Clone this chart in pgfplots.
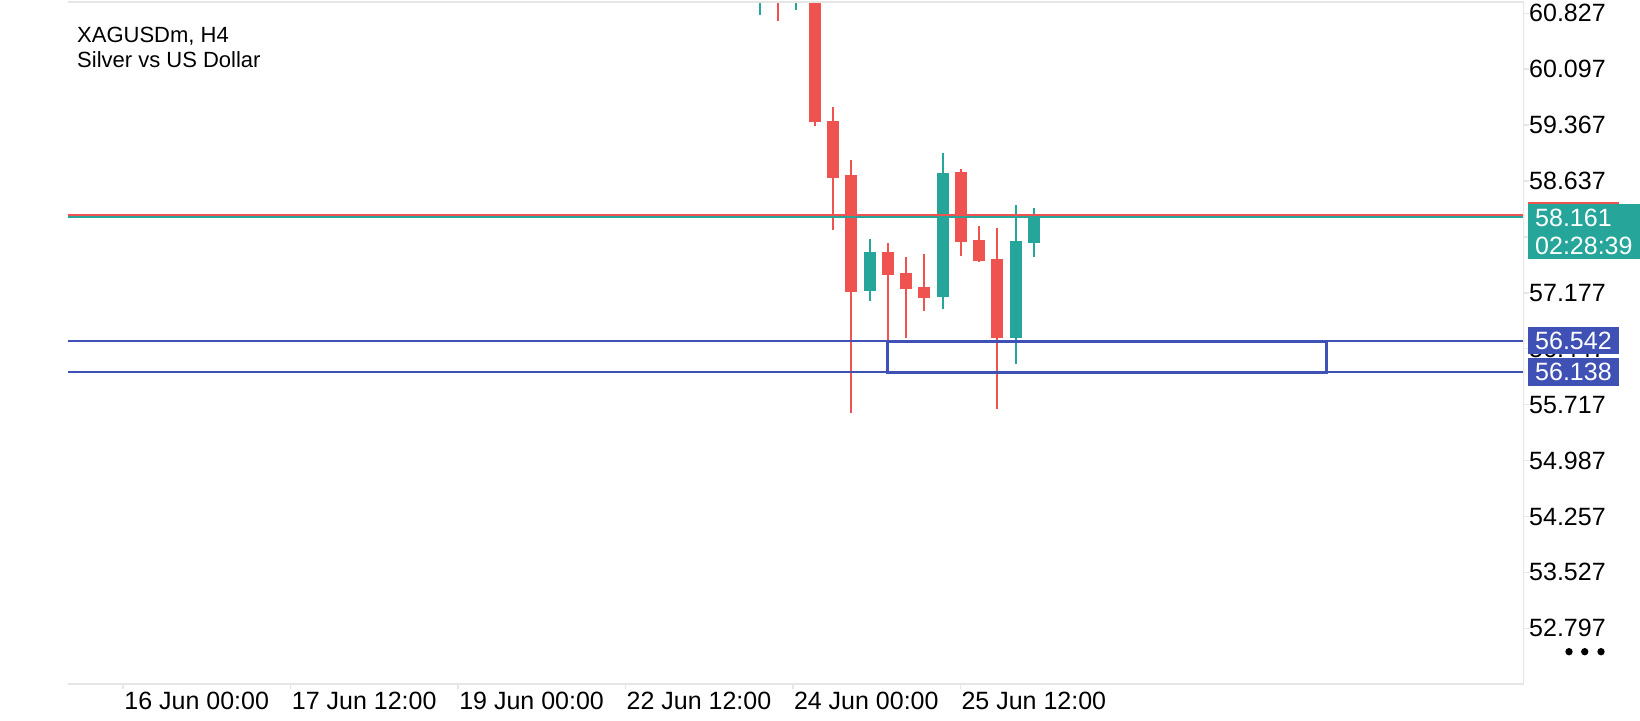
\documentclass[border=0pt]{standalone}
\usepackage{fontspec}
\setmainfont{Liberation Sans}
\usepackage{pgfplots}
\usepackage{pgfplotstable}
\pgfplotsset{compat=1.18}
\definecolor{bear}{HTML}{EF5350}
\definecolor{bull}{HTML}{26A69A}
\definecolor{lvl}{HTML}{3F51B5}
\definecolor{framec}{HTML}{E6E6E6}

% H4 candles: index, open, high, low, close
\pgfplotstableread{
i open high low close
2 61.50 61.70 60.73 61.10
4 61.30 61.50 59.355 59.41
5 59.42 59.602 57.997 58.68
6 58.715 58.911 55.61 57.191
8 57.71 57.83 56.56 57.414
9 57.436 57.645 56.587 57.23
10 57.257 57.684 56.943 57.113
12 58.755 58.794 57.66 57.845
13 57.867 58.05 57.575 57.596
14 57.618 58.02 55.66 56.583
}\beartab
\pgfplotstableread{
i open high low close
1 61.20 61.60 60.80 61.40
3 61.20 61.50 60.87 61.30
7 57.205 57.88 57.07 57.71
11 57.126 58.999 56.96 58.745
15 56.59 58.324 56.243 57.854
16 57.831 58.281 57.64 58.161
}\bulltab

\begin{document}
\begin{tikzpicture}[x=1pt,y=1pt]
\path[use as bounding box] (0,0) rectangle (1640,720);
\begin{axis}[
  at={(68pt,36pt)}, anchor=south west,
  scale only axis, width=1456pt, height=682pt,
  xmin=-36.87, xmax=42.82, ymin=52.069, ymax=60.975,
  axis line style={draw=none},
  tick align=outside,
  major tick length=5pt,
  tick style={draw=framec, line width=1.5pt},
  xtick={-33.85,-24.68,-15.52,-6.36,2.80,11.97},
  xticklabels={16 Jun 00:00,17 Jun 12:00,19 Jun 00:00,22 Jun 12:00,24 Jun 00:00,25 Jun 12:00},
  xtick pos=bottom,
  xticklabel style={anchor=north west, inner sep=0pt, font=\fontsize{25}{30}\selectfont, xshift=1pt, yshift=-3pt},
  ytick={52.797,53.527,54.257,54.987,55.717,56.447,57.177,57.907,58.637,59.367,60.097,60.827},
  ytick pos=right,
  yticklabel pos=right,
  yticklabel style={anchor=west, inner sep=0pt, font=\fontsize{25}{30}\selectfont, /pgf/number format/.cd, fixed, fixed zerofill, precision=3, assume math mode=true},
  clip=true,
]
% wicks
\addplot [draw=none, mark=none, forget plot, error bars/.cd, y dir=plus, y explicit, error mark=none,
  error bar style={draw=bear, line width=2pt, solid}]
  table [x=i, y=low, y error expr=\thisrow{high}-\thisrow{low}] {\beartab};
\addplot [draw=none, mark=none, forget plot, error bars/.cd, y dir=plus, y explicit, error mark=none,
  error bar style={draw=bull, line width=2pt, solid}]
  table [x=i, y=low, y error expr=\thisrow{high}-\thisrow{low}] {\bulltab};
% bodies
\addplot [draw=none, mark=none, forget plot, error bars/.cd, y dir=plus, y explicit, error mark=none,
  error bar style={draw=bear, line width=12pt, solid, line cap=butt}]
  table [x=i, y=close, y error expr=\thisrow{open}-\thisrow{close}] {\beartab};
\addplot [draw=none, mark=none, forget plot, error bars/.cd, y dir=plus, y explicit, error mark=none,
  error bar style={draw=bull, line width=12pt, solid, line cap=butt}]
  table [x=i, y=open, y error expr=\thisrow{close}-\thisrow{open}] {\bulltab};
% ask / bid lines
\addplot [bear, line width=2pt, forget plot] coordinates {(-40,58.195) (45,58.195)};
\addplot [bull, line width=2pt, forget plot] coordinates {(-40,58.161) (45,58.161)};
% levels
\addplot [lvl, line width=2pt, forget plot] coordinates {(-40,56.542) (45,56.542)};
\addplot [lvl, line width=2pt, forget plot] coordinates {(-40,56.138) (45,56.138)};
\draw [lvl, line width=3pt] (axis cs:8,56.542) rectangle (axis cs:32,56.138);
% frame (top, right, bottom)
\draw [framec, line width=3pt] (rel axis cs:0,1) -- (rel axis cs:1,1) -- (rel axis cs:1,0) -- (rel axis cs:0,0);
\end{axis}
% title
\node[anchor=base west, inner sep=0pt, font=\fontsize{22}{26}\selectfont] at (77,677.7) {XAGUSDm, H4};
\node[anchor=base west, inner sep=0pt, font=\fontsize{22}{26}\selectfont] at (77,652.7) {Silver vs US Dollar};
% price tags
\fill[bear] (1528,491) rectangle (1619,518.3);
\fill[bull] (1528,460.7) rectangle (1640,515.7);
\node[anchor=base west, inner sep=0pt, text=white, font=\fontsize{25}{30}\selectfont] at (1535,493.8) {58.161};
\node[anchor=base west, inner sep=0pt, text=white, font=\fontsize{25}{30}\selectfont] at (1535,465) {02:28:39};
\fill[lvl] (1528,365.7) rectangle (1619,392.7);
\node[anchor=base west, inner sep=0pt, text=white, font=\fontsize{25}{30}\selectfont] at (1535,370) {56.542};
\fill[lvl] (1528,334.3) rectangle (1619,361.7);
\node[anchor=base west, inner sep=0pt, text=white, font=\fontsize{25}{30}\selectfont] at (1535,339.4) {56.138};
% menu dots
\fill (1569,68.3) circle (3.7);
\fill (1584.7,68.3) circle (3.7);
\fill (1601,68.3) circle (3.7);
\end{tikzpicture}
\end{document}
